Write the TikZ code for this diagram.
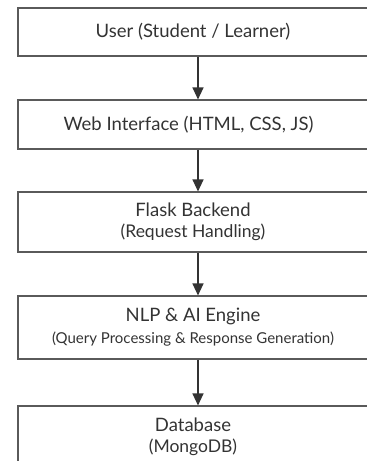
\documentclass[tikz,border=0pt]{standalone}
\usepackage{fontspec}
\setmainfont{Lato}
\usetikzlibrary{arrows.meta}

\definecolor{boxline}{HTML}{5A5A5A}
\definecolor{inktext}{HTML}{333333}

\begin{document}
\begin{tikzpicture}[x = 1pt, y = -1pt,
                > = {Triangle[length = 12pt, width = 11pt]}, % arrow head style
                node distance = 95pt, % distance between node centres
                line width = 1.1pt % line style
            ]

            \tikzstyle{every node}=[draw = boxline, rectangle, align = center,
            text = inktext, font = \fontsize{18.5}{21}\selectfont,
            minimum width = 350pt, inner sep = 0pt]

            \useasboundingbox (0,0) rectangle (367,461);

            \node (1) [minimum height = 48pt] at (193,32) {User (Student / Learner)};
            \node (2) [below of = 1, node distance = 92.5pt, minimum height = 49pt]
            {Web Interface (HTML, CSS, JS)\hspace*{9pt}};
            \node (3) [below of = 2, node distance = 97.5pt, minimum height = 60pt]
            {Flask Backend\\ {\fontsize{17.5}{21}\selectfont (Request Handling)}};
            \node (4) [below of = 3, node distance = 105.5pt, minimum height = 63pt]
            {NLP \& AI Engine\\[1pt] {\fontsize{15}{18}\selectfont (Query Processing \& Response Generation)}};
            \node (5) [below of = 4, node distance = 109.5pt, minimum height = 62pt]
            {Database\\ {\fontsize{17.5}{21}\selectfont (MongoDB)}};

            \draw[->, inktext] ([xshift = 5pt]1.south) -- ([xshift = 5pt]2.north);
            \draw[->, inktext] ([xshift = 5pt]2.south) -- ([xshift = 5pt]3.north);
            \draw[->, inktext] ([xshift = 5pt]3.south) -- ([xshift = 5pt]4.north);
            \draw[->, inktext] ([xshift = 5pt]4.south) -- ([xshift = 5pt]5.north);
        \end{tikzpicture}
\end{document}
